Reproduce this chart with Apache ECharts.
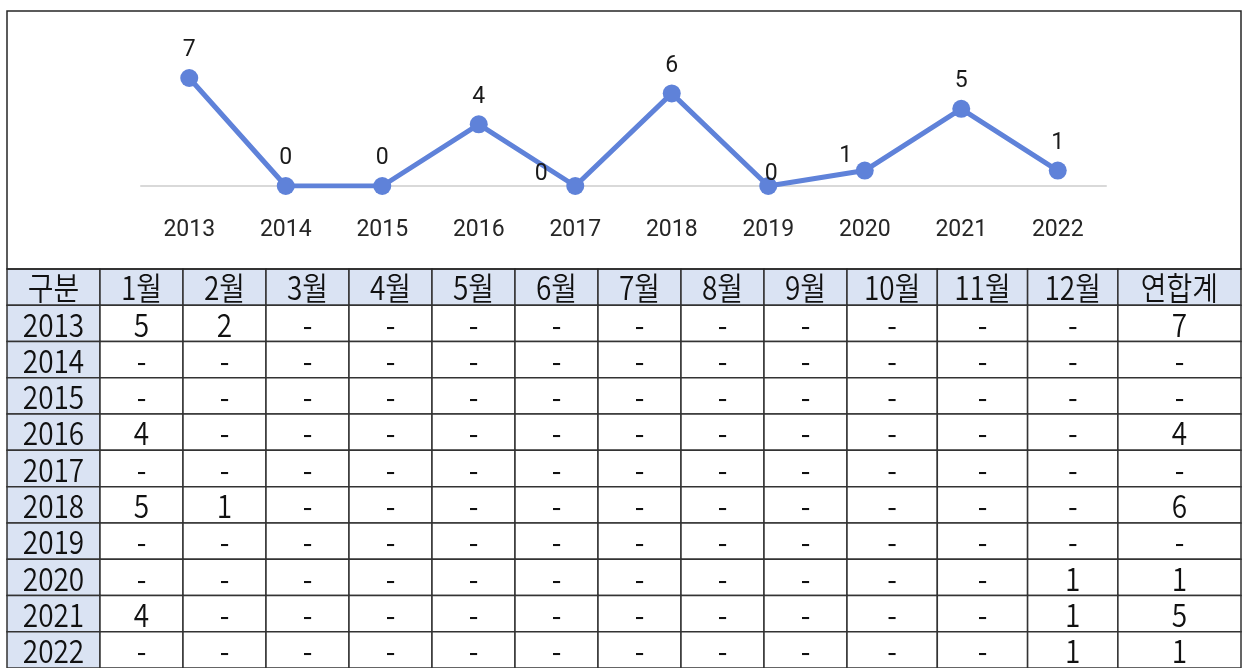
<!DOCTYPE html>
<html>
<head>
<meta charset="utf-8">
<script src="https://cdn.jsdelivr.net/npm/echarts@6/dist/echarts.min.js"></script>
<style>
    html, body { margin: 0; padding: 0; background: #fff; }
    #chart { width: 1242px; height: 668px; }
</style>
</head>
<body>
<div id="chart"></div>
<script>
// 연도별 발생 건수
const years = ['2013', '2014', '2015', '2016', '2017', '2018', '2019', '2020', '2021', '2022'];
const yearTotals = [7, 0, 0, 4, 0, 6, 0, 1, 5, 1];

// 표 머리글
const tableHeader = ['구분', '1월', '2월', '3월', '4월', '5월', '6월', '7월', '8월', '9월', '10월', '11월', '12월', '연합계'];

// 월별 건수 (행: 연도, 열: 1~12월)
const monthlyCases = [
    [5, 2, 0, 0, 0, 0, 0, 0, 0, 0, 0, 0],
    [0, 0, 0, 0, 0, 0, 0, 0, 0, 0, 0, 0],
    [0, 0, 0, 0, 0, 0, 0, 0, 0, 0, 0, 0],
    [4, 0, 0, 0, 0, 0, 0, 0, 0, 0, 0, 0],
    [0, 0, 0, 0, 0, 0, 0, 0, 0, 0, 0, 0],
    [5, 1, 0, 0, 0, 0, 0, 0, 0, 0, 0, 0],
    [0, 0, 0, 0, 0, 0, 0, 0, 0, 0, 0, 0],
    [0, 0, 0, 0, 0, 0, 0, 0, 0, 0, 0, 1],
    [4, 0, 0, 0, 0, 0, 0, 0, 0, 0, 0, 1],
    [0, 0, 0, 0, 0, 0, 0, 0, 0, 0, 0, 1]
];

// 표 열 너비 (px)
const colWidths = [93, 83, 83, 83, 83, 83, 83, 83, 83, 83, 90.3, 90.3, 90.3, 123.1];
const colEdges = [0];
colWidths.forEach(w => colEdges.push(colEdges[colEdges.length - 1] + w));

// 겹치는 레이블 위치 보정
const labelOffsets = { 4: [-34, 16], 6: [3, 16], 7: [-19, 13] };

const LINE_COLOR = '#5f82d9';
const HEAD_BG = '#dae3f3';
const FONT = "'Noto Sans CJK KR', 'Noto Sans', sans-serif";

// 표 셀 목록
const rowNames = ['구분'].concat(years);
const cells = [];
tableHeader.forEach((t, c) => cells.push({ col: c, row: 0, text: t, bg: HEAD_BG }));
years.forEach((y, i) => {
    const r = i + 1;
    cells.push({ col: 0, row: r, text: y, bg: HEAD_BG });
    monthlyCases[i].forEach((v, m) => {
        cells.push({ col: m + 1, row: r, text: v ? String(v) : '-', bg: '#ffffff' });
    });
    cells.push({ col: 13, row: r, text: yearTotals[i] ? String(yearTotals[i]) : '-', bg: '#ffffff' });
});

const chart = echarts.init(document.getElementById('chart'));

const option = {
    animation: false,
    backgroundColor: '#ffffff',
    grid: [
        { left: 141, right: 136, top: 78, height: 108 },
        { left: 7, width: 1234, top: 269, height: 405 }
    ],
    xAxis: [
        {
            type: 'category',
            gridIndex: 0,
            data: years,
            axisLine: { lineStyle: { color: '#d9d9d9', width: 2 } },
            axisTick: { show: false },
            axisLabel: {
                margin: 33,
                fontSize: 23,
                color: '#262626',
                fontFamily: 'Roboto'
            }
        },
        {
            type: 'value',
            gridIndex: 1,
            min: 0,
            max: colEdges[colEdges.length - 1],
            show: false
        }
    ],
    yAxis: [
        {
            type: 'value',
            gridIndex: 0,
            min: 0,
            max: 7,
            show: false
        },
        {
            type: 'category',
            gridIndex: 1,
            data: rowNames,
            inverse: true,
            show: false
        }
    ],
    graphic: [{
        type: 'rect',
        shape: { x: 7, y: 11, width: 1234, height: 258 },
        style: { fill: 'none', stroke: '#262626', lineWidth: 1.5 },
        z: 10
    }],
    series: [
        {
            type: 'line',
            xAxisIndex: 0,
            yAxisIndex: 0,
            data: yearTotals.map((v, i) => {
                const item = { value: v };
                if (labelOffsets[i]) item.label = { offset: labelOffsets[i] };
                return item;
            }),
            symbol: 'circle',
            symbolSize: 18,
            lineStyle: { color: LINE_COLOR, width: 5 },
            itemStyle: { color: LINE_COLOR },
            label: {
                show: true,
                position: 'top',
                distance: 7,
                fontSize: 23,
                color: '#1a1a1a',
                fontFamily: 'Roboto'
            }
        },
        {
            type: 'custom',
            xAxisIndex: 1,
            yAxisIndex: 1,
            data: cells.map(c => [c.col, c.row]),
            renderItem: function (params, api) {
                const cell = cells[params.dataIndex];
                const p0 = api.coord([colEdges[cell.col], cell.row]);
                const p1 = api.coord([colEdges[cell.col + 1], cell.row]);
                const h = api.size([0, 1])[1];
                return {
                    type: 'group',
                    children: [
                        {
                            type: 'rect',
                            shape: { x: p0[0], y: p0[1] - h / 2, width: p1[0] - p0[0], height: h },
                            style: { fill: cell.bg, stroke: '#333333', lineWidth: 1.5 }
                        },
                        {
                            type: 'text',
                            x: (p0[0] + p1[0]) / 2,
                            y: p0[1] + 1,
                            scaleY: 1.15,
                            style: {
                                text: cell.text,
                                x: 0,
                                y: 0,
                                align: 'center',
                                verticalAlign: 'middle',
                                fontSize: 28,
                                fontWeight: 350,
                                fontFamily: FONT,
                                fill: '#111111'
                            }
                        }
                    ]
                };
            }
        }
    ]
};

chart.setOption(option);

window.addEventListener('resize', () => {
    chart.resize();
});
</script>
</body>
</html>
